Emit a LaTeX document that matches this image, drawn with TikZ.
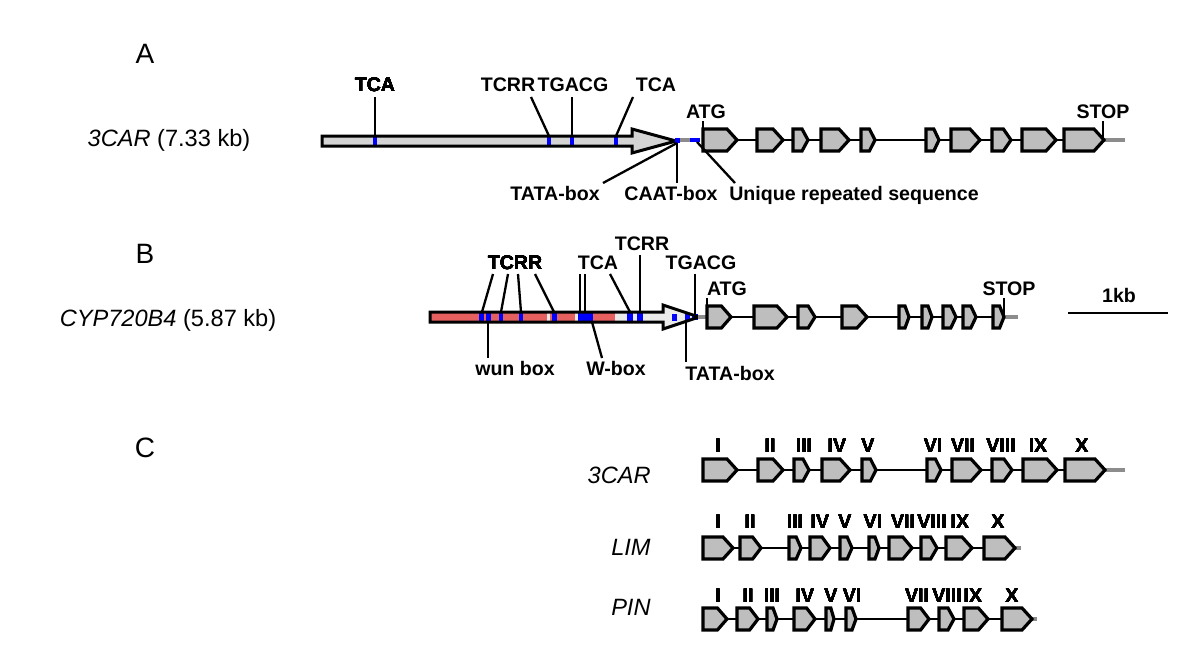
\documentclass[tikz,border=0pt]{standalone}
\usepackage{fontspec}
\setmainfont{Liberation Sans}
\definecolor{exgray}{RGB}{190,190,190}
\definecolor{promA}{RGB}{212,212,212}
\definecolor{promB}{RGB}{234,234,234}
\definecolor{redreg}{RGB}{230,96,96}
\definecolor{tailgray}{RGB}{140,140,140}
\newcommand\exon[3]{\pgfmathsetmacro\exd{min(10,0.4*(#2-#1))}%
  \draw[ex] (#1,#3-11) -- ({#2-\exd},#3-11) -- (#2,#3) -- ({#2-\exd},#3+11) -- (#1,#3+11) -- cycle;}
\newcommand\bmark[4]{\fill[blue] (#1,#3) rectangle (#2,#4);}
\tikzset{
  lbl/.style={font=\bfseries\fontsize{9.8}{11}\selectfont, inner sep=0pt, anchor=base},
  big/.style={font=\fontsize{14}{16}\selectfont, inner sep=0pt, anchor=base},
  gname/.style={font=\fontsize{11.8}{13}\selectfont, inner sep=0pt, anchor=base},
  ex/.style={draw=black, line width=1.6pt, fill=exgray, line join=miter},
  intron/.style={draw=black, line width=1.2pt},
  tail/.style={draw=tailgray, line width=2pt},
  lead/.style={draw=black, line width=1.15pt},
  prom/.style={draw=black, line width=1.5pt, line join=miter}
}
\begin{document}
\begin{tikzpicture}[x=0.5pt,y=-0.5pt]
\useasboundingbox[fill=white] (0,0) rectangle (1200,669);

% ---------------- Panel A ----------------
\node[big] (A) at (145,63) {A};
\node[gname] (nA) at (169,146) {\textit{3CAR} (7.33 kb)};
% promoter arrow
\fill[promA] (322,136) -- (632,136) -- (632,129) -- (676,141) -- (632,153) -- (632,146) -- (322,146) -- cycle;
\foreach \c in {375,549,572,616} \bmark{\c-2}{\c+2}{136.5}{145.5};
\draw[prom] (322,136) -- (632,136) -- (632,129) -- (676,141) -- (632,153) -- (632,146) -- (322,146) -- cycle;
% gene A
\draw[tail] (680,140) -- (690,140);
\draw[blue, line width=2pt] (690,140) -- (700,140);
\fill[blue] (675,138) rectangle (680,143);
\draw[intron] (703,140) -- (1104,140);
\draw[tail] (1104,140) -- (1125,140);
\foreach \a/\b in {703/737,757/783,793/808,821/849,861/875,926/939,951/980,992/1011,1022/1056,1064/1104} \exon{\a}{\b}{140}
% labels A
\node[lbl] (tca1) at (375,91) {TCA};
\node[lbl] (tcrr1) at (508,91) {TCRR};
\node[lbl] (tgacg1) at (573,91) {TGACG};
\node[lbl] (tca2) at (656,91) {TCA};
\node[lbl] (atgA) at (706,118) {ATG};
\node[lbl] (stopA) at (1103,118) {STOP};
\node[lbl] (tataA) at (555,200) {TATA-box};
\node[lbl] (caatA) at (671,200) {CAAT-box};
\node[lbl] (uniqA) at (854,200) {Unique repeated sequence};
\draw[lead] (375,97) -- (375,136);
\draw[lead] (531,97) -- (549,136);
\draw[lead] (572,97) -- (572,136);
\draw[lead] (633,97) -- (616,136);
\draw[lead] (703,121) -- (703,130);
\draw[lead] (1103,121) -- (1103,140);
\draw[lead] (677,143) -- (603,183);
\draw[lead] (677,143) -- (677,183);
\draw[lead] (697,142) -- (735,183);

% ---------------- Panel B ----------------
\node[big] (B) at (145,263) {B};
\node[gname] (nB) at (168,326) {\textit{CYP720B4} (5.87 kb)};
\fill[promB] (430,312) -- (663,312) -- (663,305) -- (699,317) -- (663,329) -- (663,322) -- (430,322) -- cycle;
\fill[redreg] (430,312) rectangle (547,322);
\fill[redreg] (550,312) rectangle (575,322);
\fill[redreg] (578,312) rectangle (615,322);
\foreach \a/\b in {479/484,486/491,499/503,519/523,552/557,578/593,627/633,637/643} \bmark{\a}{\b}{312.5}{321.5};
\bmark{672}{677}{313.5}{320.5}
\bmark{685}{690}{314}{320}
\bmark{692}{698}{313.5}{320}
\draw[prom] (430,312) -- (663,312) -- (663,305) -- (699,317) -- (663,329) -- (663,322) -- (430,322) -- cycle;
% gene B
\draw[tail] (698,317) -- (707,317);
\draw[intron] (707,317) -- (1004,317);
\draw[tail] (1004,317) -- (1018,317);
\foreach \a/\b in {707/731,754/787,798/815,842/867,899/909,922/932,943/956,963/976,993/1004} \exon{\a}{\b}{317}
% labels B
\node[lbl] (tcrrB) at (515,269) {TCRR};
\node[lbl] (tcaB) at (598,269) {TCA};
\node[lbl] (tcrrB2) at (642,250) {TCRR};
\node[lbl] (tgacgB) at (701,269) {TGACG};
\node[lbl] (atgB) at (727,295) {ATG};
\node[lbl] (stopB) at (1009,295) {STOP};
\node[lbl] (kb) at (1119,302) {1kb};
\node[lbl] (wun) at (515,375) {wun box};
\node[lbl] (wbox) at (616,375) {W-box};
\node[lbl] (tataB) at (730,380) {TATA-box};
\draw[lead] (493,274) -- (482,312);
\draw[lead] (508,274) -- (501,312);
\draw[lead] (518,274) -- (521,312);
\draw[lead] (535,274) -- (554,312);
\draw[lead] (580,274) -- (580,312);
\draw[lead] (585,274) -- (585,312);
\draw[lead] (610,274) -- (630,312);
\draw[lead] (640,255) -- (640,312);
\draw[lead] (695,274) -- (695,314);
\draw[lead] (707,298) -- (707,317);
\draw[lead] (1004,298) -- (1004,317);
\draw[lead] (488,322) -- (488,358);
\draw[lead] (592,322) -- (602,358);
\draw[lead] (686,320) -- (686,362);
\draw[lead] (1068,313) -- (1168,313);

% ---------------- Panel C ----------------
\node[big] (C) at (145,457) {C};
\node[gname, anchor=base east] (n3) at (651,483) {\textit{3CAR}};
\node[gname, anchor=base east] (nL) at (651,555) {\textit{LIM}};
\node[gname, anchor=base east] (nP) at (651,615) {\textit{PIN}};
% 3CAR row
\draw[intron] (703,470) -- (1105,470);
\draw[tail] (1105,470) -- (1125,470);
\foreach \a/\b in {703/737,758/783,794/809,822/850,862/876,927/941,952/981,992/1012,1023/1057,1065/1105} \exon{\a}{\b}{470}
\foreach \x/\t in {718/I,770/II,804/III,837/IV,868/V,933/VI,963/VII,1001/VIII,1038/IX,1082/X} \node[lbl] at (\x,452) {\t};
% LIM row
\draw[intron] (703,548) -- (1015,548);
\draw[tail] (1015,548) -- (1021,548);
\foreach \a/\b in {703/733,740/761,789/801,810/830,840/852,869/879,889/912,921/937,946/972,984/1015} \exon{\a}{\b}{548}
\foreach \x/\t in {718/I,750/II,795/III,820/IV,845/V,873/VI,903/VII,932/VIII,960/IX,998/X} \node[lbl] at (\x,528) {\t};
% PIN row
\draw[intron] (703,619) -- (1032,619);
\draw[tail] (1032,619) -- (1037,619);
\foreach \a/\b in {703/727,737/758,767/777,794/815,826/834,846/856,908/929,939/954,964/988,1002/1032} \exon{\a}{\b}{619}
\foreach \x/\t in {718/I,748/II,772/III,805/IV,831/V,852/VI,917/VII,947/VIII,973/IX,1012/X} \node[lbl] at (\x,602) {\t};
\end{tikzpicture}
\end{document}
